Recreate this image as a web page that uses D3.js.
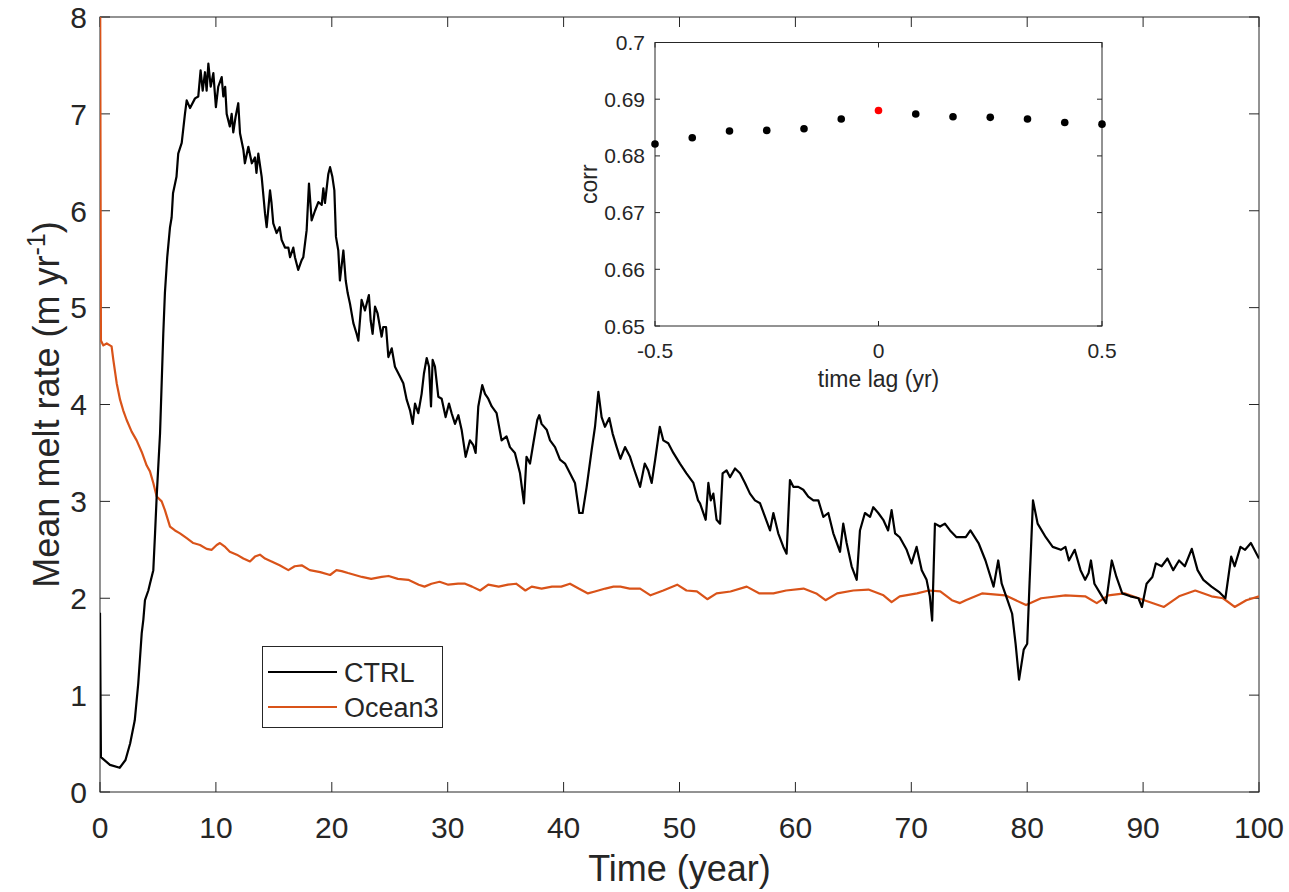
<!DOCTYPE html>
<html><head><meta charset="utf-8">
<script src="https://cdn.jsdelivr.net/npm/d3@7"></script>
<style>body{margin:0;background:#fff}svg{display:block}text{font-family:"Liberation Sans",Arial,Helvetica,sans-serif;fill:#262626}</style>
</head><body><svg id="c" width="1289" height="892"></svg>
<script>
const ctrlT=[0,0.08,0.86,1.7,2.2,2.6,3.0,3.3,3.6,3.74,3.88,4.17,4.31,4.6,4.75,4.89,5.18,5.46,5.6,5.8,6.04,6.18,6.3,6.6,6.75,7.05,7.33,7.48,7.77,8.2,8.48,8.68,8.86,9.06,9.2,9.35,9.55,9.78,10.0,10.2,10.5,10.64,10.8,10.93,11.2,11.36,11.5,11.7,11.93,12.08,12.37,12.5,12.8,13.1,13.37,13.5,13.66,13.95,14.24,14.38,14.67,14.8,14.95,15.24,15.5,15.67,15.96,16.25,16.4,16.68,16.82,17.1,17.4,17.54,17.83,18.03,18.26,18.55,18.84,19.13,19.27,19.41,19.7,19.85,20.05,20.22,20.36,20.56,20.7,21.0,21.2,21.37,21.57,21.86,22.14,22.29,22.57,22.86,23.2,23.35,23.52,23.73,23.95,24.3,24.44,24.68,24.88,25.17,25.45,25.88,26.17,26.46,26.75,26.98,27.18,27.46,27.75,27.95,28.19,28.39,28.56,28.7,28.9,29.19,29.48,29.82,30.11,30.34,30.63,30.92,31.2,31.55,31.92,32.21,32.41,32.64,32.98,33.22,33.5,33.8,34.22,34.65,35.08,35.37,35.8,36.24,36.58,36.8,37.1,37.39,37.73,37.9,38.1,38.54,38.83,39.26,39.69,40.12,40.55,40.98,41.35,41.64,41.99,42.42,42.71,43.0,43.28,43.57,43.94,44.23,44.58,44.9,45.3,45.73,46.0,46.6,47.0,47.3,47.6,47.9,48.3,48.6,49.03,49.47,50.04,50.6,51.2,51.6,51.77,52.26,52.49,52.7,52.92,53.2,53.5,53.72,54.06,54.36,54.79,55.22,55.65,56.08,56.51,56.95,57.38,57.81,58.1,58.52,58.96,59.24,59.53,59.82,60.25,60.68,61.11,61.55,61.98,62.41,62.84,63.27,63.85,64.13,64.42,64.85,65.29,65.57,66.0,66.44,66.72,67.15,67.58,68.0,68.3,68.6,69.0,69.6,70.02,70.46,70.9,71.32,71.6,71.8,72.04,72.48,72.9,73.34,73.9,74.7,75.1,75.8,76.4,77.1,77.5,77.8,78.3,78.7,79.0,79.3,79.7,80.0,80.2,80.5,80.9,81.6,82.2,82.9,83.3,83.6,84.1,84.6,85.0,85.3,85.5,85.8,86.3,86.8,87.3,87.7,88.2,88.9,89.6,89.9,90.3,90.8,91.1,91.6,92.1,92.6,93.1,93.6,94.2,94.7,95.2,95.9,96.6,97.1,97.6,97.9,98.4,98.8,99.3,100];
const ctrlV=[1.85,0.36,0.28,0.25,0.33,0.5,0.74,1.12,1.64,1.78,1.98,2.08,2.15,2.29,2.67,3.05,3.7,4.73,5.15,5.52,5.83,5.93,6.18,6.35,6.59,6.7,7.0,7.14,7.06,7.16,7.18,7.45,7.24,7.43,7.24,7.52,7.28,7.42,7.07,7.28,7.38,7.18,7.28,7.0,6.87,7.0,6.81,6.97,7.11,6.8,6.63,6.49,6.66,6.49,6.55,6.39,6.59,6.35,5.97,5.83,6.21,6.08,5.87,5.77,5.83,5.7,5.62,5.62,5.52,5.62,5.52,5.39,5.49,5.52,5.8,6.28,5.9,6.0,6.09,6.06,6.23,6.08,6.38,6.45,6.35,6.21,5.73,5.59,5.28,5.59,5.28,5.15,5.04,4.84,4.73,4.66,5.08,4.97,5.13,4.87,4.73,5.01,4.94,4.7,4.8,4.8,4.49,4.58,4.39,4.29,4.22,4.05,3.94,3.8,4.01,3.91,4.11,4.32,4.48,4.39,3.98,4.46,4.39,4.08,4.06,3.87,4.01,3.91,3.8,3.89,3.74,3.46,3.63,3.58,3.5,3.98,4.2,4.11,4.06,3.98,3.91,3.63,3.67,3.56,3.5,3.29,2.98,3.46,3.39,3.6,3.84,3.89,3.8,3.74,3.63,3.56,3.43,3.39,3.29,3.19,2.88,2.88,3.15,3.53,3.77,4.13,3.87,3.77,3.86,3.7,3.56,3.44,3.56,3.46,3.36,3.15,3.39,3.32,3.19,3.43,3.77,3.63,3.6,3.5,3.39,3.29,3.19,3.01,2.98,2.81,3.19,3.01,3.08,2.81,2.77,3.29,3.32,3.25,3.34,3.29,3.19,3.08,3.01,2.98,2.84,2.7,2.88,2.67,2.53,2.46,3.22,3.15,3.15,3.12,3.05,3.01,3.01,2.84,2.88,2.67,2.48,2.77,2.57,2.33,2.19,2.7,2.88,2.84,2.94,2.88,2.81,2.7,2.91,2.67,2.63,2.5,2.36,2.53,2.29,2.19,2.02,1.77,2.77,2.74,2.77,2.7,2.63,2.63,2.7,2.57,2.39,2.12,2.39,2.15,1.98,1.84,1.53,1.16,1.47,1.53,2.15,3.01,2.77,2.63,2.53,2.5,2.53,2.39,2.5,2.29,2.19,2.26,2.39,2.15,2.05,1.95,2.39,2.22,2.05,2.02,2.0,1.91,2.15,2.22,2.36,2.33,2.41,2.29,2.39,2.33,2.51,2.29,2.19,2.12,2.06,2.0,2.43,2.33,2.53,2.5,2.57,2.41];
const oceanT=[0,0.08,0.29,0.58,0.86,1.0,1.15,1.44,1.73,2.0,2.3,2.73,3.16,3.6,4.03,4.31,4.6,4.89,5.32,5.6,6.04,6.47,6.9,7.48,8.05,8.63,9.2,9.64,10.07,10.35,10.8,11.2,11.8,12.37,12.94,13.37,13.8,14.24,14.8,15.5,16.25,16.8,17.4,18.1,19.0,19.85,20.4,20.85,21.4,22.6,23.4,24.3,24.9,25.7,26.6,27.5,28.0,28.6,29.3,30.05,30.9,31.5,32.1,32.8,33.5,34.4,35.2,35.9,36.7,37.25,38.1,39.0,39.8,40.55,41.3,42.1,42.7,43.6,44.3,44.9,45.7,46.6,47.5,48.6,49.8,50.6,51.5,52.4,53.2,54.4,55.8,56.9,58.1,59.2,60.7,61.8,62.6,63.6,65.0,66.3,67.6,68.3,69.0,70.5,71.5,72.5,73.5,74.2,74.7,76.1,78.1,79.9,81.2,83.3,85.0,86.0,87.0,88.4,90.1,91.8,93.1,94.5,95.9,96.9,97.9,98.9,100];
const oceanV=[9.0,4.66,4.61,4.63,4.61,4.6,4.46,4.22,4.05,3.94,3.84,3.72,3.63,3.51,3.37,3.31,3.19,3.05,3.0,2.91,2.74,2.7,2.67,2.62,2.57,2.55,2.51,2.5,2.55,2.57,2.53,2.48,2.45,2.41,2.38,2.43,2.45,2.41,2.38,2.34,2.29,2.33,2.34,2.29,2.27,2.24,2.29,2.28,2.26,2.22,2.2,2.22,2.23,2.2,2.19,2.14,2.12,2.15,2.17,2.14,2.15,2.15,2.12,2.08,2.14,2.12,2.14,2.15,2.08,2.12,2.1,2.12,2.12,2.15,2.1,2.05,2.07,2.1,2.12,2.12,2.1,2.1,2.03,2.08,2.14,2.08,2.07,1.99,2.05,2.07,2.12,2.05,2.05,2.08,2.1,2.05,1.98,2.05,2.08,2.09,2.03,1.96,2.02,2.05,2.08,2.07,1.98,1.95,1.98,2.05,2.03,1.93,2.0,2.03,2.02,1.95,2.03,2.05,1.98,1.91,2.02,2.08,2.02,2.0,1.91,1.98,2.02];
const xTicks=[0,10,20,30,40,50,60,70,80,90,100];
const yTicks=[0,1,2,3,4,5,6,7,8];
const lagT=[-6,-5,-4,-3,-2,-1,0,1,2,3,4,5,6].map(m=>m/12);
const corrV=[0.6821,0.6832,0.6844,0.6845,0.6848,0.6865,0.6880,0.6874,0.6869,0.6868,0.6865,0.6859,0.6856];
const insetXTicks=[-0.5,0,0.5];
const insetYTicks=[0.65,0.66,0.67,0.68,0.69,0.7];
const seriesNames=["CTRL","Ocean3"];
const seriesColors=["#000000","#D95319"];

const svg=d3.select("#c");
const AX="#262626";
const L=100,R=1259,T=17,B=792;
const x=d3.scaleLinear().domain([0,100]).range([L,R]);
const y=d3.scaleLinear().domain([0,8]).range([B,T]);

function box(g,x,y,l,r,t,b,xt,yt,tl){
  g.append("rect").attr("x",l).attr("y",t).attr("width",r-l).attr("height",b-t).attr("fill","#fff").attr("stroke",AX).attr("stroke-width",1);
  xt.forEach(v=>{const p=x(v);
    g.append("line").attr("x1",p).attr("x2",p).attr("y1",b).attr("y2",b-tl).attr("stroke",AX);
    g.append("line").attr("x1",p).attr("x2",p).attr("y1",t).attr("y2",t+tl).attr("stroke",AX);});
  yt.forEach(v=>{const p=y(v);
    g.append("line").attr("x1",l).attr("x2",l+tl).attr("y1",p).attr("y2",p).attr("stroke",AX);
    g.append("line").attr("x1",r).attr("x2",r-tl).attr("y1",p).attr("y2",p).attr("stroke",AX);});
}
const main=svg.append("g");
box(main,x,y,L,R,T,B,xTicks,yTicks,10);
xTicks.forEach(v=>main.append("text").attr("x",x(v)).attr("y",838).attr("text-anchor","middle").attr("font-size",30).text(v));
yTicks.forEach(v=>main.append("text").attr("x",87).attr("y",y(v)).attr("dy","0.36em").attr("text-anchor","end").attr("font-size",30).text(v));
main.append("text").attr("x",(L+R)/2).attr("y",881).attr("text-anchor","middle").attr("font-size",36).text("Time (year)");
const yl=main.append("text").attr("transform",`translate(59,${(T+B)/2}) rotate(-90)`).attr("text-anchor","middle").attr("font-size",36);
yl.append("tspan").text("Mean melt rate (m yr");
yl.append("tspan").attr("font-size",25).attr("dy",-14).text("-1");
yl.append("tspan").attr("dy",14).text(")");

svg.append("clipPath").attr("id","clp").append("rect").attr("x",L).attr("y",T).attr("width",R-L).attr("height",B-T);
const line=d3.line().x(d=>x(d[0])).y(d=>y(d[1]));
const ocean=oceanT.map((t,i)=>[t,oceanV[i]]);
const ctrl=ctrlT.map((t,i)=>[t,ctrlV[i]]);
const lg=svg.append("g").attr("clip-path","url(#clp)");
lg.append("path").attr("d",line(ocean)).attr("fill","none").attr("stroke",seriesColors[1]).attr("stroke-width",2.2).attr("stroke-linejoin","round");
lg.append("path").attr("d",line(ctrl)).attr("fill","none").attr("stroke",seriesColors[0]).attr("stroke-width",2.2).attr("stroke-linejoin","round");

// legend
const leg=svg.append("g");
leg.append("rect").attr("x",262.5).attr("y",646.5).attr("width",180).attr("height",81).attr("fill","#fff").attr("stroke",AX);
seriesNames.forEach((n,i)=>{const yy=672+i*35;
  leg.append("line").attr("x1",268).attr("x2",337).attr("y1",yy).attr("y2",yy).attr("stroke",seriesColors[i]).attr("stroke-width",2.2);
  leg.append("text").attr("x",344).attr("y",yy+9.5).attr("font-size",27).text(n);});

// inset
const iL=655,iR=1102,iT=42.5,iB=326;
const ix=d3.scaleLinear().domain([-0.5,0.5]).range([iL,iR]);
const iy=d3.scaleLinear().domain([0.65,0.7]).range([iB,iT]);
const ins=svg.append("g");
box(ins,ix,iy,iL,iR,iT,iB,insetXTicks,insetYTicks,5);
insetXTicks.forEach(v=>ins.append("text").attr("x",ix(v)).attr("y",358).attr("text-anchor","middle").attr("font-size",21).text(v));
insetYTicks.forEach(v=>ins.append("text").attr("x",645).attr("y",iy(v)).attr("dy","0.36em").attr("text-anchor","end").attr("font-size",21).text(v));
ins.append("text").attr("x",(iL+iR)/2).attr("y",387).attr("text-anchor","middle").attr("font-size",23).text("time lag (yr)");
ins.append("text").attr("transform",`translate(597,${(iT+iB)/2}) rotate(-90)`).attr("text-anchor","middle").attr("font-size",23).text("corr");
lagT.forEach((t,i)=>ins.append("circle").attr("cx",ix(t)).attr("cy",iy(corrV[i])).attr("r",3.8).attr("fill",t===0?"#ff0000":"#000"));
</script></body></html>
